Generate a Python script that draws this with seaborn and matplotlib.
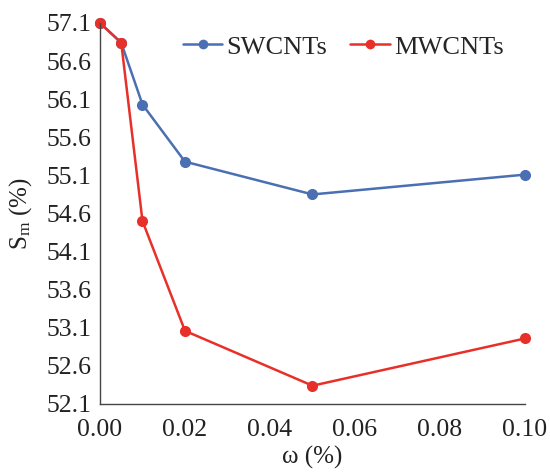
import matplotlib
matplotlib.use("Agg")
import matplotlib.pyplot as plt
import seaborn as sns
import pandas as pd

# Mass fraction of nanotubes (%) and resulting S_m (%)
omega = [0.0, 0.005, 0.01, 0.02, 0.05, 0.10]
sw_values = [57.1, 56.84, 56.03, 55.28, 54.85, 55.11]
mw_values = [57.1, 56.84, 54.50, 53.06, 52.34, 52.96]
series_names = ["SWCNTs", "MWCNTs"]
x_ticks = [0.00, 0.02, 0.04, 0.06, 0.08, 0.10]
y_ticks = [52.1, 52.6, 53.1, 53.6, 54.1, 54.6, 55.1, 55.6, 56.1, 56.6, 57.1]

df = pd.DataFrame({
    "omega": omega * 2,
    "Sm": sw_values + mw_values,
    "series": [series_names[0]] * len(omega) + [series_names[1]] * len(omega),
})

sns.set_theme(style="white")
plt.rcParams["font.family"] = "serif"
plt.rcParams["font.serif"] = ["Liberation Serif"]
plt.rcParams["mathtext.fontset"] = "custom"
plt.rcParams["mathtext.rm"] = "Liberation Serif"
plt.rcParams["mathtext.it"] = "Liberation Serif:italic"

fig = plt.figure(figsize=(5.5, 4.73), dpi=100)
ax = fig.add_axes([0.1818, 0.1459, 0.7727, 0.8055])

palette = {"SWCNTs": "#4a6fb3", "MWCNTs": "#e8302a"}
sns.lineplot(data=df, x="omega", y="Sm", hue="series", palette=palette,
             marker="o", markersize=8, markeredgewidth=0, linewidth=1.8,
             ax=ax, legend=False)
for ln in ax.lines:
    ln.set_clip_on(False)

ax.set_xlim(0, 0.10)
ax.set_ylim(52.1, 57.1)
ax.set_xticks(x_ticks)
ax.set_xticklabels([f"{v:.2f}" for v in x_ticks])
ax.set_yticks(y_ticks)
ax.set_yticklabels([f"{v:.1f}" for v in y_ticks])
ax.tick_params(axis="both", length=0, labelsize=18.5, colors="#222222")
ax.tick_params(axis="x", pad=11)
ax.tick_params(axis="y", pad=6)

for side in ["top", "right"]:
    ax.spines[side].set_visible(False)
for side in ["left", "bottom"]:
    ax.spines[side].set_color("#444444")
    ax.spines[side].set_linewidth(1.0)

ax.set_xlabel("ω (%)", fontsize=18, color="#222222", labelpad=3)
ax.set_ylabel(r"S$_\mathrm{m}$ (%)", fontsize=18, color="#222222", labelpad=9)

handles = [plt.Line2D([], [], color=palette[n], marker="o", markersize=7,
                      markeredgewidth=0, linewidth=1.8) for n in series_names]
ax.legend(handles, series_names, loc="center left", bbox_to_anchor=(0.195, 0.937),
          ncol=2, frameon=False, fontsize=19, handlelength=1.5, borderpad=0,
          borderaxespad=0, handletextpad=0.15, columnspacing=0.87)

fig.savefig("out.png", dpi=100)
